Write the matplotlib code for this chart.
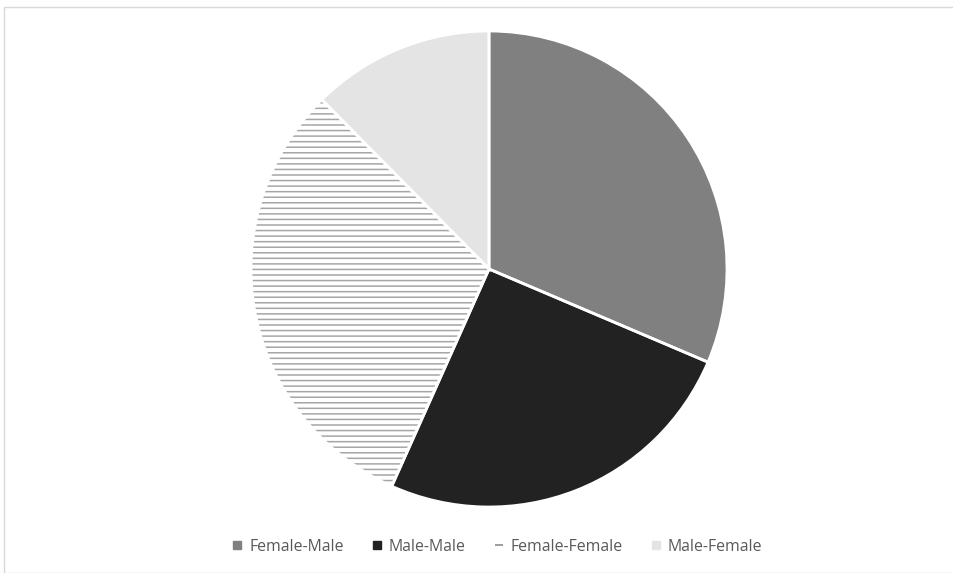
import matplotlib
matplotlib.use("Agg")
import matplotlib.pyplot as plt
from matplotlib.patches import Rectangle
from matplotlib.lines import Line2D

labels = ["Female-Male", "Male-Male", "Female-Female", "Male-Female"]
values = [31.4, 25.3, 30.9, 12.4]
colors = ["#808080", "#222222", "#ffffff", "#e4e4e4"]
hatches = [None, None, "---", None]
hatch_colors = ["#808080", "#222222", "#a6a6a6", "#e4e4e4"]

plt.rcParams['font.family'] = ['Open Sans', 'DejaVu Sans']
plt.rcParams['hatch.linewidth'] = 1.1

W, H = 954, 573
fig = plt.figure(figsize=(W/100, H/100), dpi=100)

# outer frame
fig.patches.append(Rectangle((4/W, 0), 1.0, 1 - 7/H, transform=fig.transFigure,
                             fill=False, edgecolor="#d9d9d9", linewidth=1.0))

cx, cy, r = 489, 269, 238
ax = fig.add_axes([(cx - r)/W, (H - cy - r)/H, 2*r/W, 2*r/H])

wedges, _ = ax.pie(values, colors=colors, startangle=90, counterclock=False,
                   radius=1.0, wedgeprops=dict(linewidth=0))
for w, h, hc in zip(wedges, hatches, hatch_colors):
    w.set_edgecolor(hc)
    if h:
        w.set_hatch(h)
    w.set_linewidth(0)

# white separators
ax.pie(values, colors=["none"]*4, startangle=90, counterclock=False, radius=1.0,
       wedgeprops=dict(linewidth=2, edgecolor="white", fill=False))
ax.set_xlim(-1, 1); ax.set_ylim(-1, 1)
ax.set_axis_off()

handles = []
for i, (c, h) in enumerate(zip(colors, hatches)):
    if h:
        handles.append(Line2D([], [], marker="_", linestyle="none", color="#8c8c8c",
                              markersize=6, markeredgewidth=1.2))
    else:
        handles.append(Line2D([], [], marker="s", linestyle="none", color=c,
                              markersize=6))

leg = fig.legend(handles, labels, loc="center", bbox_to_anchor=(497/W, 1 - 547/H),
                 ncol=4, frameon=False, fontsize=11.4, handlelength=0.7,
                 handletextpad=0.4, columnspacing=1.75,
                 labelcolor="#595959")

fig.savefig("out.png", dpi=100)
